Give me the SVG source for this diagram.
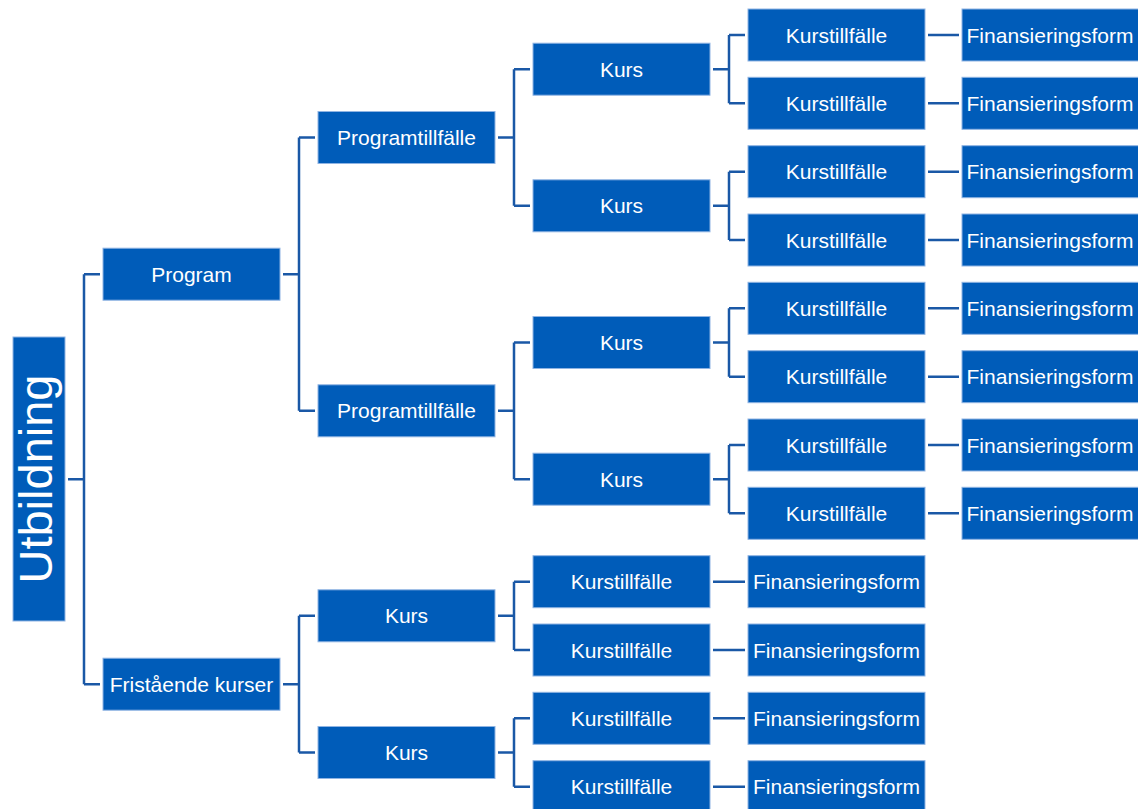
<svg xmlns="http://www.w3.org/2000/svg" width="1138" height="809" viewBox="0 0 1138 809">
<style>
.b{fill:#005CB9;stroke:#8FB4E3;stroke-width:1}
.t{fill:#fff;font-family:"Liberation Sans",Arial,sans-serif;font-size:21px;text-anchor:middle}
.big{fill:#fff;font-family:"Liberation Sans",Arial,sans-serif;font-size:47px;text-anchor:middle}
.c{fill:none;stroke:#1A58A6;stroke-width:2.5}
</style>
<rect width="1138" height="809" fill="#fff"/>
<g id="connectors" class="c">
<path d="M68 479.2H84M84 274.2V684.2M84 274.2H100M84 684.2H100"/>
<path d="M283 274.2H299M299 137.5V410.8M299 137.5H315M299 410.8H315"/>
<path d="M283 684.2H299M299 615.8V752.5M299 615.8H315M299 752.5H315"/>
<path d="M498 137.5H514M514 69.2V205.8M514 69.2H530M514 205.8H530"/>
<path d="M498 410.8H514M514 342.5V479.2M514 342.5H530M514 479.2H530"/>
<path d="M498 615.8H514M514 581.7V650M514 581.7H530M514 650H530"/>
<path d="M498 752.5H514M514 718.3V786.7M514 718.3H530M514 786.7H530"/>
<path d="M713 69.2H729M729 35V103.3M729 35H745M729 103.3H745"/>
<path d="M713 205.8H729M729 171.7V240M729 171.7H745M729 240H745"/>
<path d="M713 342.5H729M729 308.3V376.7M729 308.3H745M729 376.7H745"/>
<path d="M713 479.2H729M729 445V513.3M729 445H745M729 513.3H745"/>
<path d="M928 35H959M928 103.3H959M928 171.7H959M928 240H959M928 308.3H959M928 376.7H959M928 445H959M928 513.3H959"/>
<path d="M713 581.7H745M713 650H745M713 718.3H745M713 786.7H745"/>
</g>
<g id="utbildning"><rect class="b" x="13" y="337" width="52" height="284"/><text class="big" transform="translate(52 479) rotate(-90)">Utbildning</text></g>
<g id="program"><rect class="b" x="103" y="248.2" width="177" height="52"/><text class="t" x="191.5" y="281.7">Program</text></g>
<g id="fristaende"><rect class="b" x="103" y="658.2" width="177" height="52"/><text class="t" x="191.5" y="691.7">Fristående kurser</text></g>
<g id="pt1"><rect class="b" x="318" y="111.5" width="177" height="52"/><text class="t" x="406.5" y="145">Programtillfälle</text></g>
<g id="pt2"><rect class="b" x="318" y="384.8" width="177" height="52"/><text class="t" x="406.5" y="418.3">Programtillfälle</text></g>
<g id="fk1"><rect class="b" x="318" y="589.8" width="177" height="52"/><text class="t" x="406.5" y="623.3">Kurs</text></g>
<g id="fk2"><rect class="b" x="318" y="726.5" width="177" height="52"/><text class="t" x="406.5" y="760">Kurs</text></g>
<g id="k1"><rect class="b" x="533" y="43.2" width="177" height="52"/><text class="t" x="621.5" y="76.7">Kurs</text></g>
<g id="k2"><rect class="b" x="533" y="179.8" width="177" height="52"/><text class="t" x="621.5" y="213.3">Kurs</text></g>
<g id="k3"><rect class="b" x="533" y="316.5" width="177" height="52"/><text class="t" x="621.5" y="350">Kurs</text></g>
<g id="k4"><rect class="b" x="533" y="453.2" width="177" height="52"/><text class="t" x="621.5" y="486.7">Kurs</text></g>
<g id="fkt1"><rect class="b" x="533" y="555.7" width="177" height="52"/><text class="t" x="621.5" y="589.2">Kurstillfälle</text></g>
<g id="fkt2"><rect class="b" x="533" y="624" width="177" height="52"/><text class="t" x="621.5" y="657.5">Kurstillfälle</text></g>
<g id="fkt3"><rect class="b" x="533" y="692.3" width="177" height="52"/><text class="t" x="621.5" y="725.8">Kurstillfälle</text></g>
<g id="fkt4"><rect class="b" x="533" y="760.7" width="177" height="52"/><text class="t" x="621.5" y="794.2">Kurstillfälle</text></g>
<g id="ffi1"><rect class="b" x="748" y="555.7" width="177" height="52"/><text class="t" x="836.5" y="589.2">Finansieringsform</text></g>
<g id="ffi2"><rect class="b" x="748" y="624" width="177" height="52"/><text class="t" x="836.5" y="657.5">Finansieringsform</text></g>
<g id="ffi3"><rect class="b" x="748" y="692.3" width="177" height="52"/><text class="t" x="836.5" y="725.8">Finansieringsform</text></g>
<g id="ffi4"><rect class="b" x="748" y="760.7" width="177" height="52"/><text class="t" x="836.5" y="794.2">Finansieringsform</text></g>
<g id="kt1"><rect class="b" x="748" y="9" width="177" height="52"/><text class="t" x="836.5" y="42.5">Kurstillfälle</text></g>
<g id="kt2"><rect class="b" x="748" y="77.3" width="177" height="52"/><text class="t" x="836.5" y="110.8">Kurstillfälle</text></g>
<g id="kt3"><rect class="b" x="748" y="145.7" width="177" height="52"/><text class="t" x="836.5" y="179.2">Kurstillfälle</text></g>
<g id="kt4"><rect class="b" x="748" y="214" width="177" height="52"/><text class="t" x="836.5" y="247.5">Kurstillfälle</text></g>
<g id="kt5"><rect class="b" x="748" y="282.3" width="177" height="52"/><text class="t" x="836.5" y="315.8">Kurstillfälle</text></g>
<g id="kt6"><rect class="b" x="748" y="350.7" width="177" height="52"/><text class="t" x="836.5" y="384.2">Kurstillfälle</text></g>
<g id="kt7"><rect class="b" x="748" y="419" width="177" height="52"/><text class="t" x="836.5" y="452.5">Kurstillfälle</text></g>
<g id="kt8"><rect class="b" x="748" y="487.3" width="177" height="52"/><text class="t" x="836.5" y="520.8">Kurstillfälle</text></g>
<g id="fi1"><rect class="b" x="962" y="9" width="177" height="52"/><text class="t" x="1050" y="42.5">Finansieringsform</text></g>
<g id="fi2"><rect class="b" x="962" y="77.3" width="177" height="52"/><text class="t" x="1050" y="110.8">Finansieringsform</text></g>
<g id="fi3"><rect class="b" x="962" y="145.7" width="177" height="52"/><text class="t" x="1050" y="179.2">Finansieringsform</text></g>
<g id="fi4"><rect class="b" x="962" y="214" width="177" height="52"/><text class="t" x="1050" y="247.5">Finansieringsform</text></g>
<g id="fi5"><rect class="b" x="962" y="282.3" width="177" height="52"/><text class="t" x="1050" y="315.8">Finansieringsform</text></g>
<g id="fi6"><rect class="b" x="962" y="350.7" width="177" height="52"/><text class="t" x="1050" y="384.2">Finansieringsform</text></g>
<g id="fi7"><rect class="b" x="962" y="419" width="177" height="52"/><text class="t" x="1050" y="452.5">Finansieringsform</text></g>
<g id="fi8"><rect class="b" x="962" y="487.3" width="177" height="52"/><text class="t" x="1050" y="520.8">Finansieringsform</text></g>
</svg>
